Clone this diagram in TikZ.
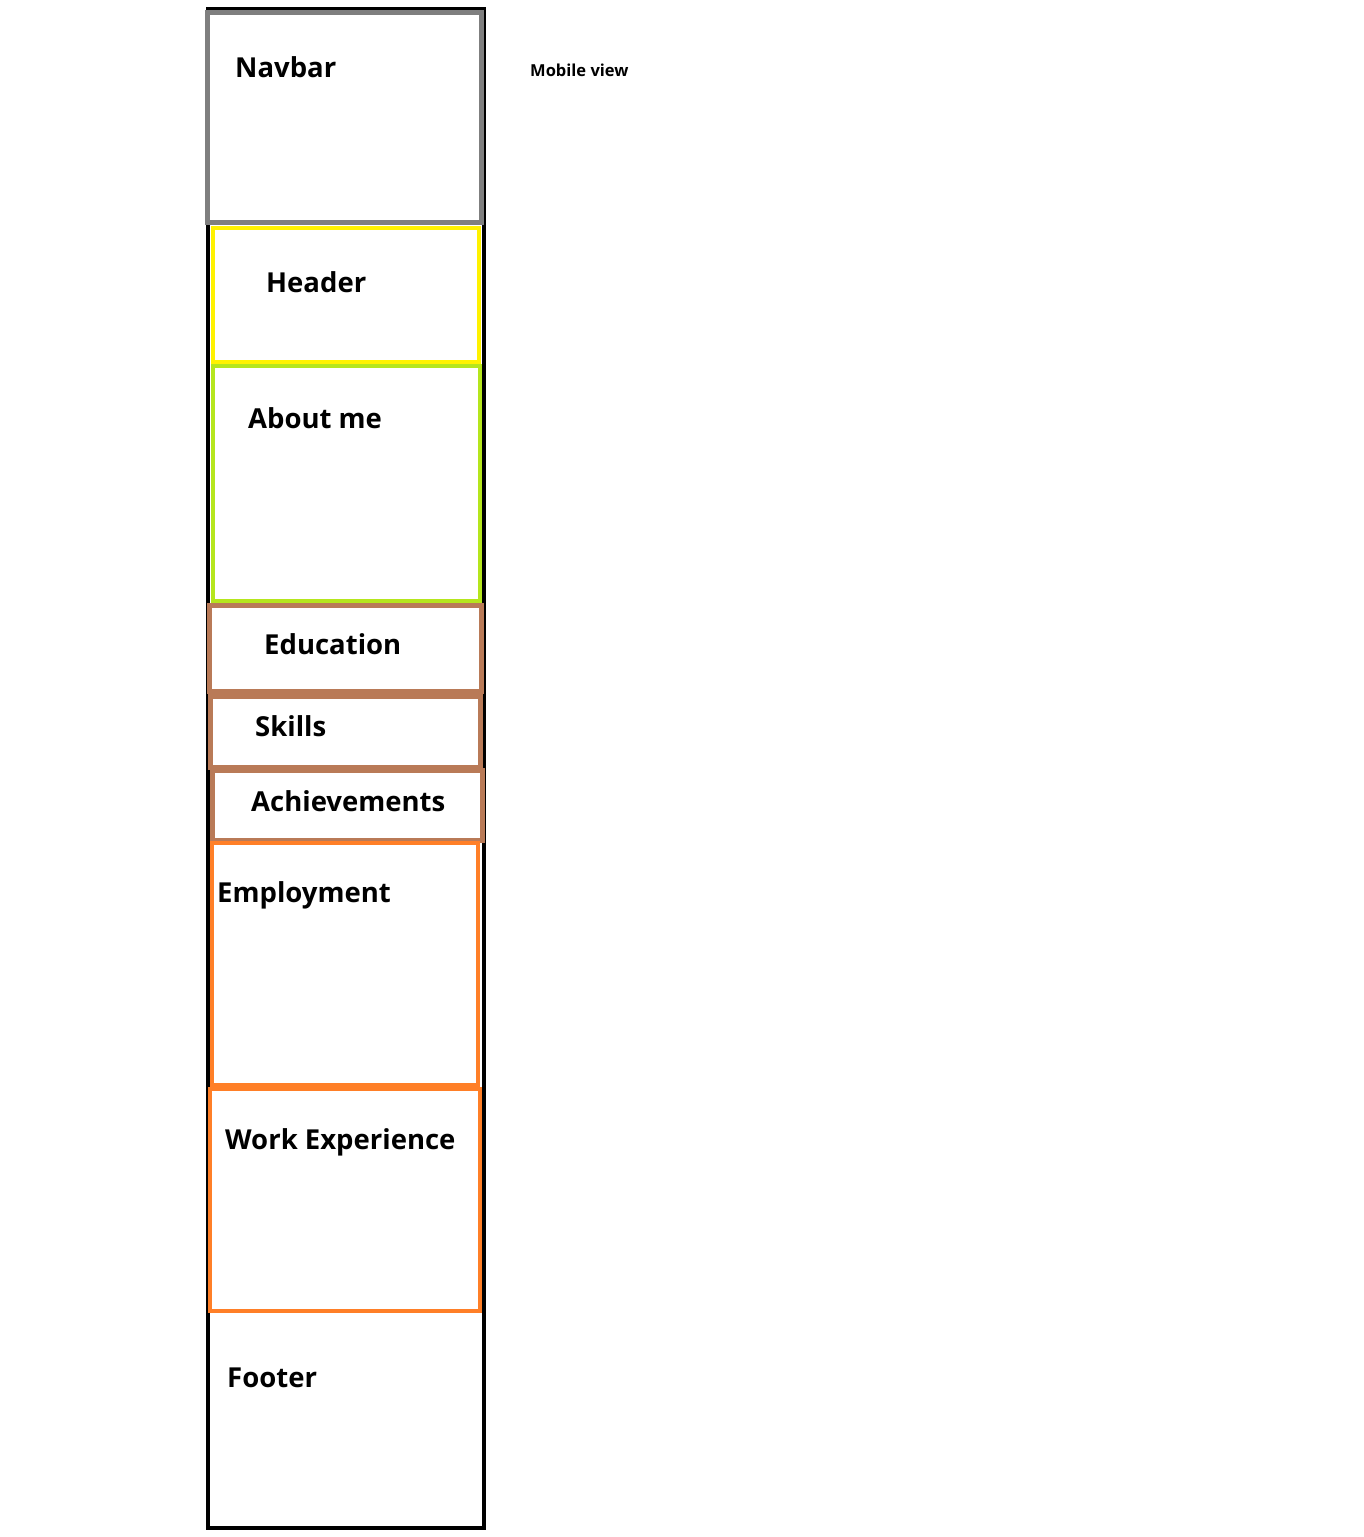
\documentclass[tikz,border=0pt]{standalone}
\usepackage{fontspec}
\setmainfont{Open Sans}
\definecolor{navgray}{HTML}{7F7F7F}
\definecolor{hdryellow}{HTML}{FFF200}
\definecolor{abtgreen}{HTML}{B5E61D}
\definecolor{edubrown}{HTML}{B97A57}
\definecolor{emporange}{HTML}{FF7F27}
\tikzset{
  lbl/.style={anchor=base west, inner sep=0pt, font=\fontsize{27.5}{30}\selectfont\bfseries},
  small/.style={anchor=base west, inner sep=0pt, font=\fontsize{16.5}{18}\selectfont\bfseries},
  outerbox/.style={draw=black, line width=4pt},
  navbox/.style={draw=navgray, line width=5pt},
  hdrbox/.style={draw=hdryellow, line width=3.5pt},
  abtbox/.style={draw=abtgreen, line width=4pt},
  brownbox/.style={draw=edubrown, line width=5pt},
  orangebox/.style={draw=emporange, line width=4pt}
}
\begin{document}
\begin{tikzpicture}[x=1pt,y=-1pt]
\useasboundingbox[fill=white] (0,0) rectangle (1364,1537);
% outer page frame
\draw[outerbox] (208,9) rectangle (483.5,1528);
% sections
\draw[navbox] (207.5,12.5) rectangle (481,222.5);
\draw[hdrbox] (213,228) rectangle (479,362);
\draw[abtbox] (213,366) rectangle (480,601);
\draw[brownbox] (209.5,605.5) rectangle (481,691.5);
\draw[brownbox] (210.5,696.5) rectangle (480,767.5);
\draw[brownbox] (212,770) rectangle (482,840);
\draw[orangebox] (211.5,843) rectangle (477.5,1085);
\draw[orangebox] (209.5,1089) rectangle (479.5,1311);
% labels
\node[lbl] (navbar) at (235,77) {Navbar};
\node[lbl] (header) at (266,292) {Header};
\node[lbl] (about) at (248,428) {About me};
\node[lbl] (edu) at (264,654) {Education};
\node[lbl] (skills) at (255,736) {Skills};
\node[lbl] (ach) at (251,811) {Achievements};
\node[lbl] (emp) at (217,902) {Employment};
\node[lbl] (work) at (225,1149) {Work Experience};
\node[lbl] (footer) at (227,1387) {Footer};
\node[small] (mobile) at (530,76) {Mobile view};
\end{tikzpicture}
\end{document}
